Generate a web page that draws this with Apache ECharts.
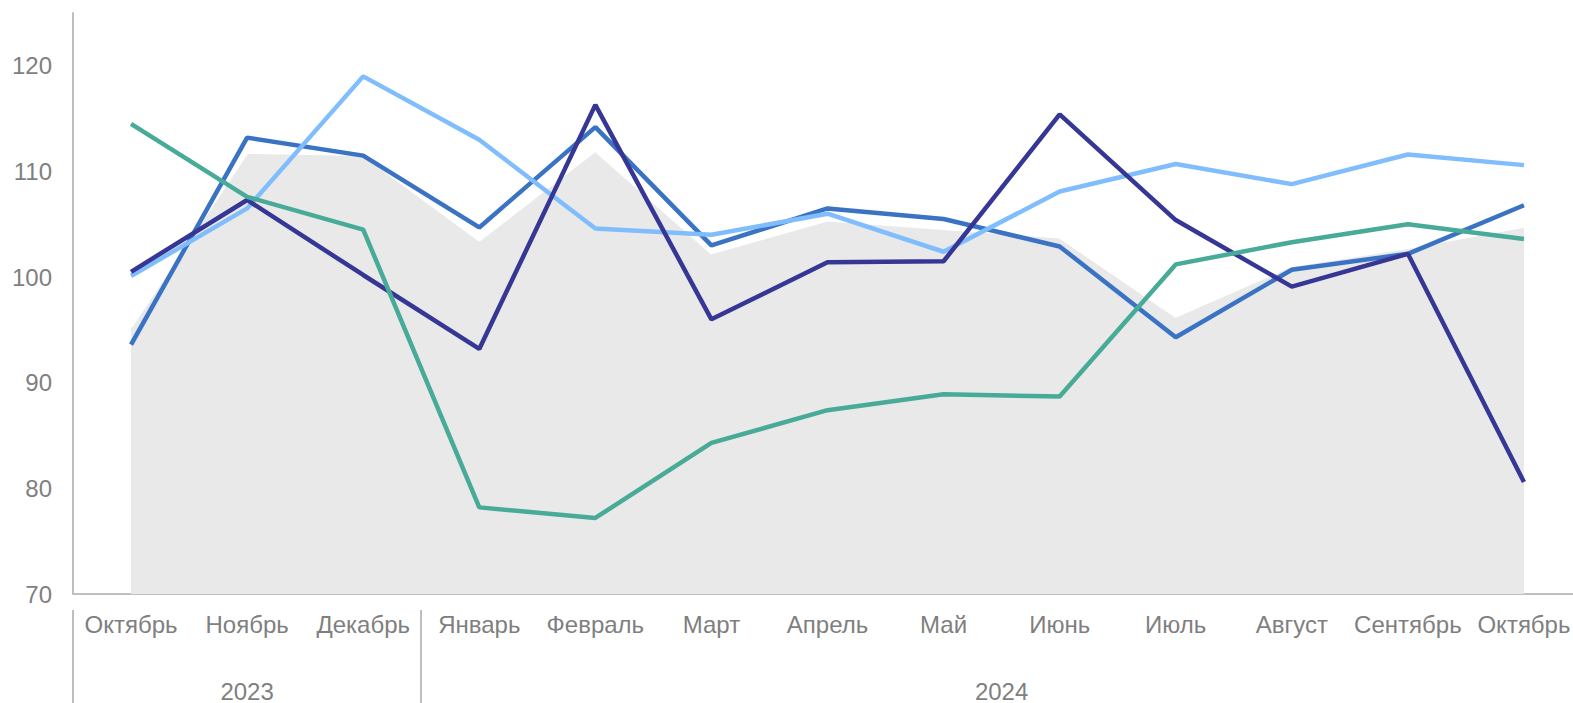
<!DOCTYPE html>
<html>
<head>
<meta charset="utf-8">
<script src="https://cdn.jsdelivr.net/npm/echarts@6/dist/echarts.min.js"></script>
<style>
  html, body { margin: 0; padding: 0; background: #fff; }
  #chart { width: 1573px; height: 703px; }
</style>
</head>
<body>
<div id="chart"></div>
<script>
// подписи
var months = ["Октябрь", "Ноябрь", "Декабрь", "Январь", "Февраль", "Март", "Апрель",
  "Май", "Июнь", "Июль", "Август", "Сентябрь", "Октябрь"];
var years = ["2023", "2024"];
var yearSpans = [3, 10]; // сколько месяцев в каждом году

// ряды
var areaValues = [95.3, 111.8, 111.6, 103.5, 112.0, 102.3, 105.4, 104.6, 103.8, 96.3, 101.1, 102.8, 104.8];
var navyValues = [100.5, 107.3, 100.2, 93.2, 116.3, 96.0, 101.4, 101.5, 115.4, 105.4, 99.1, 102.2, 80.6];
var blueValues = [93.6, 113.2, 111.5, 104.7, 114.2, 103.0, 106.5, 105.5, 102.9, 94.3, 100.7, 102.2, 106.8];
var lightValues = [100.1, 106.5, 119.0, 113.0, 104.6, 104.0, 106.0, 102.4, 108.1, 110.7, 108.8, 111.6, 110.6];
var tealValues = [114.5, 107.6, 104.5, 78.2, 77.2, 84.3, 87.4, 88.9, 88.7, 101.2, 103.3, 105.0, 103.6];

// второй уровень оси: полшага на месяц
var yearSlots = [];
for (var i = 0; i <= months.length * 2; i++) yearSlots.push("");
var sepIdx = [];
var start = 0;
years.forEach(function (y, k) {
  yearSlots[start * 2 + yearSpans[k]] = y;
  sepIdx.push(start * 2);
  start += yearSpans[k];
});

var textColor = "#7f7f7f";
var axisColor = "#bfbfbf";
var font = "Liberation Sans, Arial, sans-serif";

function lineSeries(name, data, color) {
  return {
    name: name,
    type: "line",
    data: data,
    symbol: "none",
    lineStyle: { color: color, width: 4.5 },
    itemStyle: { color: color },
  };
}

var chart = echarts.init(document.getElementById("chart"), null, { renderer: "svg" });
chart.setOption({
  animation: false,
  grid: { left: 73, width: 1509, top: 13, bottom: 109, containLabel: false, outerBoundsMode: "none" },
  xAxis: [
    {
      type: "category",
      data: months,
      boundaryGap: true,
      axisLine: { show: true, lineStyle: { color: axisColor, width: 2 } },
      axisTick: { show: false },
      axisLabel: { color: textColor, fontSize: 24, margin: 18, interval: 0, fontFamily: font },
    },
    {
      type: "category",
      data: yearSlots,
      boundaryGap: false,
      position: "bottom",
      offset: 16,
      axisLine: { show: false },
      axisTick: {
        show: true,
        length: 95,
        interval: function (index) { return sepIdx.indexOf(index) >= 0; },
        lineStyle: { color: axisColor, width: 2 },
      },
      axisLabel: {
        color: textColor,
        fontSize: 24,
        margin: 69,
        interval: function (index, value) { return value !== ""; },
        fontFamily: font,
      },
    },
  ],
  yAxis: {
    type: "value",
    min: 70,
    max: 125,
    interval: 10,
    axisLine: { show: true, lineStyle: { color: axisColor, width: 2 } },
    axisTick: { show: false },
    splitLine: { show: false },
    axisLabel: {
      color: textColor,
      fontSize: 24,
      margin: 21,
      showMaxLabel: false,
      fontFamily: font,
      formatter: function (v) { return v % 10 === 0 ? v : ""; },
    },
  },
  series: [
    {
      name: "Фон",
      type: "line",
      data: areaValues,
      symbol: "none",
      lineStyle: { color: "#ffffff", width: 3 },
      areaStyle: { color: "#e9e9e9", opacity: 1 },
      z: 1,
    },
    lineSeries("Ряд 1", blueValues, "#3a73c4"),
    lineSeries("Ряд 2", lightValues, "#80bdfd"),
    lineSeries("Ряд 3", navyValues, "#363795"),
    lineSeries("Ряд 4", tealValues, "#47ab98"),
  ],
});
</script>
</body>
</html>
